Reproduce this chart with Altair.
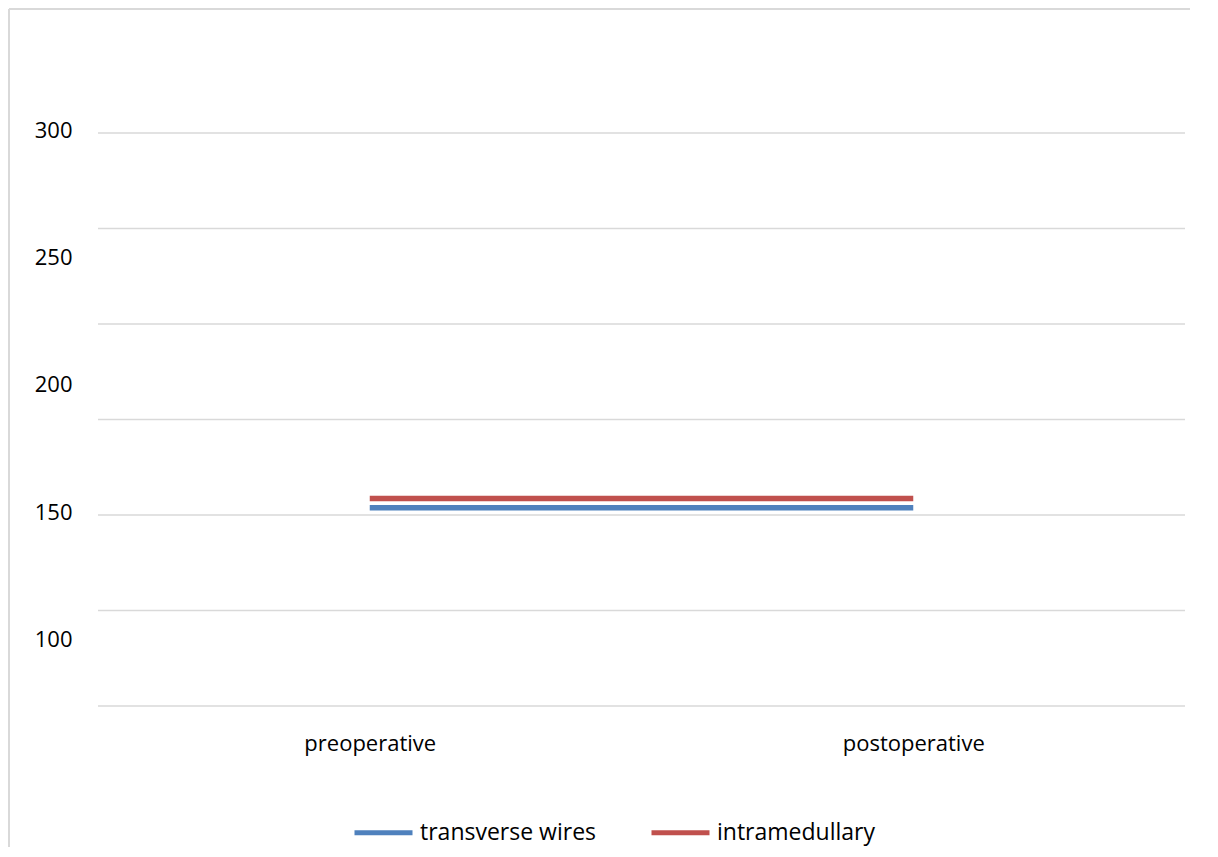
import altair as alt
import pandas as pd

categories = ["preoperative", "postoperative"]
series = ["transverse wires", "intramedullary"]
transverse_wires = [152.8, 152.8]
intramedullary = [156.5, 156.5]
y_labels = [100, 150, 200, 250, 300]
grid_values = [75, 112.5, 150, 187.5, 225, 262.5, 300]
colors = ["#4F81BD", "#C0504D"]

rows = []
for c, v in zip(categories, transverse_wires):
    rows.append({"cat": c, "series": series[0], "value": v})
for c, v in zip(categories, intramedullary):
    rows.append({"cat": c, "series": series[1], "value": v})
df = pd.DataFrame(rows)
grid_df = pd.DataFrame({"g": grid_values})

FONT = "Open Sans"
FS = 22
yscale = alt.Scale(domain=[75, 300], nice=False, zero=False)
xscale = alt.Scale(type="point", domain=categories, padding=0.5)
yaxis = alt.Axis(title=None, values=y_labels, domain=False, ticks=False,
                 grid=False, labelFontSize=FS, labelFont=FONT,
                 labelColor="#000000", labelPadding=26, labelOffset=-3)

grid = alt.Chart(grid_df).mark_rule(color="#d9d9d9", strokeWidth=1.5).encode(
    y=alt.Y("g:Q", scale=yscale, axis=yaxis)
)

lines = alt.Chart(df).mark_line(strokeWidth=5.5, strokeCap="butt").encode(
    x=alt.X("cat:N", scale=xscale, sort=categories,
            axis=alt.Axis(title=None, domain=False, ticks=False, grid=False,
                          labelAngle=0, labelFontSize=FS, labelFont=FONT,
                          labelColor="#000000", labelPadding=27)),
    y=alt.Y("value:Q", scale=yscale, axis=yaxis),
    color=alt.Color("series:N", sort=series,
                    scale=alt.Scale(domain=series, range=colors),
                    legend=alt.Legend(title=None, orient="none", direction="horizontal",
                                      legendX=254, legendY=668, symbolType="stroke",
                                      symbolSize=3364, symbolStrokeWidth=5,
                                      labelFontSize=23, labelFont=FONT, labelLimit=400,
                                      labelColor="#000000", labelOffset=5,
                                      columnPadding=44, padding=0)),
)

frame_left = alt.Chart(alt.Data(values=[{}])).mark_rule(color="#d9d9d9", strokeWidth=2).encode(
    x=alt.value(-89), y=alt.value(-124), y2=alt.value(760)
)
frame_top = alt.Chart(alt.Data(values=[{}])).mark_rule(color="#d9d9d9", strokeWidth=2).encode(
    x=alt.value(-89), x2=alt.value(1110), y=alt.value(-124)
)

chart = alt.layer(grid, lines, frame_left, frame_top).properties(
    width=1087, height=573,
    background="white",
    autosize=alt.AutoSizeParams(type="none"),
    padding={"left": 90, "top": 125, "right": 5, "bottom": 141},
).configure_view(stroke=None)

chart.save("out.html", embed_options={"renderer": "svg", "actions": False})
